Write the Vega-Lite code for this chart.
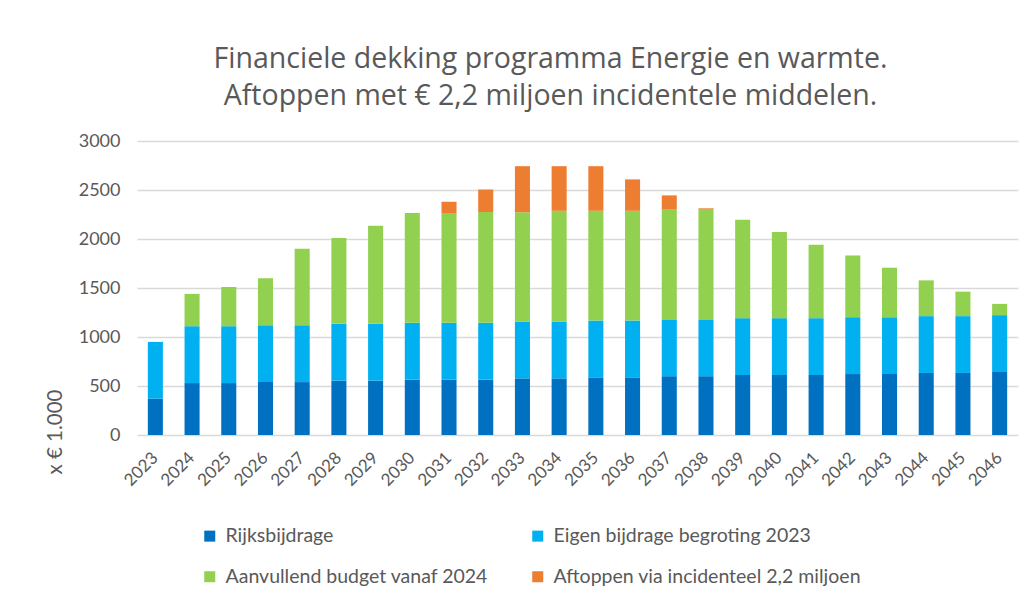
{
  "$schema": "https://vega.github.io/schema/vega-lite/v6.json",
  "autosize": {"type": "none"},
  "width": 881,
  "height": 294,
  "padding": {"left": 137, "top": 141, "right": 13, "bottom": 163},
  "background": "white",
  "title": {
    "text": ["Financiele dekking programma Energie en warmte.", "Aftoppen met € 2,2 miljoen incidentele middelen."],
    "font": "Open Sans",
    "fontSize": 28.5,
    "fontWeight": "normal",
    "color": "#595959",
    "anchor": "middle",
    "frame": "group",
    "dx": -27,
    "lineHeight": 37,
    "offset": 22
  },
  "data": {
    "values": [
      {"year": "2023", "Rijksbijdrage": 370, "Eigen bijdrage begroting 2023": 580, "Aanvullend budget vanaf 2024": 0, "Aftoppen via incidenteel 2,2 miljoen": 0},
      {"year": "2024", "Rijksbijdrage": 530, "Eigen bijdrage begroting 2023": 580, "Aanvullend budget vanaf 2024": 330, "Aftoppen via incidenteel 2,2 miljoen": 0},
      {"year": "2025", "Rijksbijdrage": 530, "Eigen bijdrage begroting 2023": 580, "Aanvullend budget vanaf 2024": 400, "Aftoppen via incidenteel 2,2 miljoen": 0},
      {"year": "2026", "Rijksbijdrage": 540, "Eigen bijdrage begroting 2023": 580, "Aanvullend budget vanaf 2024": 480, "Aftoppen via incidenteel 2,2 miljoen": 0},
      {"year": "2027", "Rijksbijdrage": 540, "Eigen bijdrage begroting 2023": 580, "Aanvullend budget vanaf 2024": 780, "Aftoppen via incidenteel 2,2 miljoen": 0},
      {"year": "2028", "Rijksbijdrage": 555, "Eigen bijdrage begroting 2023": 580, "Aanvullend budget vanaf 2024": 875, "Aftoppen via incidenteel 2,2 miljoen": 0},
      {"year": "2029", "Rijksbijdrage": 555, "Eigen bijdrage begroting 2023": 580, "Aanvullend budget vanaf 2024": 1000, "Aftoppen via incidenteel 2,2 miljoen": 0},
      {"year": "2030", "Rijksbijdrage": 565, "Eigen bijdrage begroting 2023": 580, "Aanvullend budget vanaf 2024": 1120, "Aftoppen via incidenteel 2,2 miljoen": 0},
      {"year": "2031", "Rijksbijdrage": 565, "Eigen bijdrage begroting 2023": 580, "Aanvullend budget vanaf 2024": 1120, "Aftoppen via incidenteel 2,2 miljoen": 115},
      {"year": "2032", "Rijksbijdrage": 565, "Eigen bijdrage begroting 2023": 580, "Aanvullend budget vanaf 2024": 1130, "Aftoppen via incidenteel 2,2 miljoen": 230},
      {"year": "2033", "Rijksbijdrage": 578, "Eigen bijdrage begroting 2023": 580, "Aanvullend budget vanaf 2024": 1115, "Aftoppen via incidenteel 2,2 miljoen": 470},
      {"year": "2034", "Rijksbijdrage": 578, "Eigen bijdrage begroting 2023": 580, "Aanvullend budget vanaf 2024": 1130, "Aftoppen via incidenteel 2,2 miljoen": 455},
      {"year": "2035", "Rijksbijdrage": 588, "Eigen bijdrage begroting 2023": 580, "Aanvullend budget vanaf 2024": 1120, "Aftoppen via incidenteel 2,2 miljoen": 455},
      {"year": "2036", "Rijksbijdrage": 588, "Eigen bijdrage begroting 2023": 580, "Aanvullend budget vanaf 2024": 1120, "Aftoppen via incidenteel 2,2 miljoen": 320},
      {"year": "2037", "Rijksbijdrage": 600, "Eigen bijdrage begroting 2023": 580, "Aanvullend budget vanaf 2024": 1120, "Aftoppen via incidenteel 2,2 miljoen": 145},
      {"year": "2038", "Rijksbijdrage": 600, "Eigen bijdrage begroting 2023": 580, "Aanvullend budget vanaf 2024": 1120, "Aftoppen via incidenteel 2,2 miljoen": 13},
      {"year": "2039", "Rijksbijdrage": 612, "Eigen bijdrage begroting 2023": 580, "Aanvullend budget vanaf 2024": 1005, "Aftoppen via incidenteel 2,2 miljoen": 0},
      {"year": "2040", "Rijksbijdrage": 612, "Eigen bijdrage begroting 2023": 580, "Aanvullend budget vanaf 2024": 880, "Aftoppen via incidenteel 2,2 miljoen": 0},
      {"year": "2041", "Rijksbijdrage": 612, "Eigen bijdrage begroting 2023": 580, "Aanvullend budget vanaf 2024": 750, "Aftoppen via incidenteel 2,2 miljoen": 0},
      {"year": "2042", "Rijksbijdrage": 622, "Eigen bijdrage begroting 2023": 580, "Aanvullend budget vanaf 2024": 630, "Aftoppen via incidenteel 2,2 miljoen": 0},
      {"year": "2043", "Rijksbijdrage": 622, "Eigen bijdrage begroting 2023": 580, "Aanvullend budget vanaf 2024": 505, "Aftoppen via incidenteel 2,2 miljoen": 0},
      {"year": "2044", "Rijksbijdrage": 633, "Eigen bijdrage begroting 2023": 580, "Aanvullend budget vanaf 2024": 365, "Aftoppen via incidenteel 2,2 miljoen": 0},
      {"year": "2045", "Rijksbijdrage": 633, "Eigen bijdrage begroting 2023": 580, "Aanvullend budget vanaf 2024": 250, "Aftoppen via incidenteel 2,2 miljoen": 0},
      {"year": "2046", "Rijksbijdrage": 643, "Eigen bijdrage begroting 2023": 580, "Aanvullend budget vanaf 2024": 115, "Aftoppen via incidenteel 2,2 miljoen": 0}
    ]
  },
  "transform": [
    {"fold": ["Rijksbijdrage", "Eigen bijdrage begroting 2023", "Aanvullend budget vanaf 2024", "Aftoppen via incidenteel 2,2 miljoen"], "as": ["serie", "value"]},
    {"window": [{"op": "row_number", "as": "stackrank"}], "groupby": ["year"]}
  ],
  "mark": {"type": "bar"},
  "encoding": {
    "x": {
      "field": "year",
      "type": "ordinal",
      "scale": {"paddingInner": 0.59, "paddingOuter": 0.295},
      "axis": {
        "title": null,
        "labelAngle": -45,
        "labelAlign": "right",
        "labelBaseline": "middle",
        "labelFont": "Lato",
        "labelFontSize": 17,
        "labelColor": "#595959",
        "labelPadding": 20,
        "ticks": false,
        "domain": false
      }
    },
    "y": {
      "field": "value",
      "type": "quantitative",
      "stack": "zero",
      "scale": {"domain": [0, 3000], "nice": false},
      "axis": {
        "title": "x € 1.000",
        "titleFont": "Lato",
        "titleFontSize": 20.5,
        "titleFontWeight": "normal",
        "titleColor": "#595959",
        "titleAngle": -90,
        "titleAlign": "left",
        "titleBaseline": "middle",
        "titleX": -82,
        "titleY": 333,
        "values": [0, 500, 1000, 1500, 2000, 2500, 3000],
        "format": "d",
        "labelFont": "Lato",
        "labelFontSize": 18,
        "labelColor": "#595959",
        "labelPadding": 17,
        "ticks": false,
        "domain": false,
        "grid": true,
        "gridColor": "#D9D9D9",
        "gridWidth": 1.5
      }
    },
    "color": {
      "field": "serie",
      "type": "nominal",
      "scale": {
        "domain": ["Rijksbijdrage", "Eigen bijdrage begroting 2023", "Aanvullend budget vanaf 2024", "Aftoppen via incidenteel 2,2 miljoen"],
        "range": ["#0070C0", "#00B0F0", "#92D050", "#ED7D31"]
      },
      "legend": {
        "title": null,
        "orient": "none",
        "legendX": 63,
        "legendY": 385,
        "direction": "horizontal",
        "columns": 2,
        "columnPadding": 39,
        "rowPadding": 20,
        "symbolType": "square",
        "symbolSize": 121,
        "symbolStrokeWidth": 0,
        "labelFont": "Lato",
        "labelFontSize": 19.5,
        "labelLimit": 0,
        "labelColor": "#595959",
        "labelOffset": 6
      }
    },
    "order": {"field": "stackrank", "type": "quantitative", "sort": "ascending"}
  },
  "config": {
    "view": {"stroke": null}
  }
}
